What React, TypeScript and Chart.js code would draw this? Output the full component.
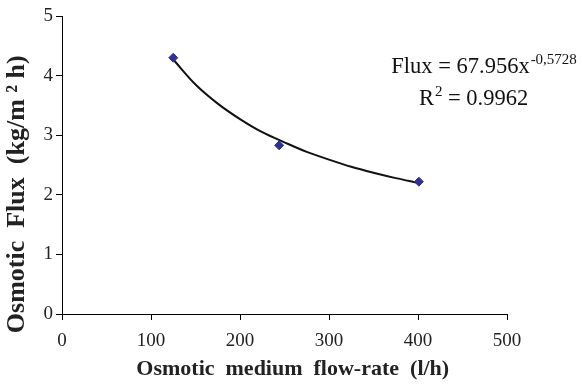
import React, { useEffect, useRef } from "react";
import { Chart, registerables } from "chart.js";

Chart.register(...registerables);

// Measured points (Osmotic medium flow-rate l/h, Osmotic flux kg/m2 h)
const flowRates = [125, 244, 401];
const fluxValues = [4.3, 2.83, 2.22];

// Trend line (power fit)
const trendX = [125, 150, 175, 200, 225, 250, 275, 300, 325, 350, 375, 400];
const trendY = [4.27, 3.85, 3.53, 3.27, 3.05, 2.88, 2.72, 2.59, 2.47, 2.37, 2.28, 2.2];

const xTicks = [0, 100, 200, 300, 400, 500];
const yTicks = [0, 1, 2, 3, 4, 5];

const xTitle = "   Osmotic  medium  flow-rate  (l/h)";
const yTitle = "Osmotic  Flux  (kg/m \u00B2 h)         ";
const eqMain = "Flux = 67.956x";
const eqExp = "-0,5728";
const r2Label = "R";
const r2Sup = "2";
const r2Value = " = 0.9962";

const annotationPlugin = {
  id: "eqAnnotation",
  afterDraw(chart: any) {
    const ctx = chart.ctx;
    const xs = chart.scales.x;
    const ys = chart.scales.y;
    ctx.save();
    ctx.fillStyle = "#111";
    ctx.textBaseline = "alphabetic";
    ctx.textAlign = "left";
    const x1 = xs.getPixelForValue(370);
    const y1 = ys.getPixelForValue(4.04);
    ctx.font = "22.5px 'Liberation Serif'";
    ctx.fillText(eqMain, x1, y1);
    const w1 = ctx.measureText(eqMain).width;
    ctx.font = "15px 'Liberation Serif'";
    ctx.fillText(eqExp, x1 + w1 + 1, y1 - 9);
    const x2 = xs.getPixelForValue(401);
    const y2 = ys.getPixelForValue(3.5);
    ctx.font = "22.5px 'Liberation Serif'";
    ctx.fillText(r2Label, x2, y2);
    const w2 = ctx.measureText(r2Label).width;
    ctx.font = "15px 'Liberation Serif'";
    ctx.fillText(r2Sup, x2 + w2 + 1, y2 - 9);
    const w3 = ctx.measureText(r2Sup).width;
    ctx.font = "22.5px 'Liberation Serif'";
    ctx.fillText(r2Value, x2 + w2 + w3 + 1, y2);
    ctx.restore();
  },
};

export default function App() {
  const ref = useRef<HTMLCanvasElement>(null);
  useEffect(() => {
    document.body.style.margin = "0";
    const canvas = ref.current!;
    const chart = new Chart(canvas, {
      type: "scatter",
      data: {
        datasets: [
          {
            type: "line",
            label: "Trend",
            data: trendX.map((x, i) => ({ x, y: trendY[i] })),
            borderColor: "#111",
            borderWidth: 2,
            pointRadius: 0,
            cubicInterpolationMode: "monotone",
            fill: false,
            order: 2,
          } as any,
          {
            label: "Flux",
            data: flowRates.map((x, i) => ({ x, y: fluxValues[i] })),
            backgroundColor: "#2E3192",
            borderColor: "#2E3192",
            pointStyle: "rectRot",
            pointRadius: 4.5,
            order: 1,
          },
        ],
      },
      options: {
        responsive: false,
        animation: false,
        layout: { padding: { top: 16, right: 75, left: 0, bottom: 0 } },
        plugins: {
          legend: { display: false },
          tooltip: { enabled: false },
        },
        scales: {
          x: {
            type: "linear",
            min: 0,
            max: 500,
            afterBuildTicks: (s: any) => {
              s.ticks = xTicks.map((v) => ({ value: v }));
            },
            afterFit: (s: any) => {
              s.height = 72;
            },
            grid: {
              drawOnChartArea: false,
              drawTicks: true,
              tickLength: 6,
              color: "#000",
            },
            border: { color: "#000", width: 1 },
            ticks: {
              color: "#222",
              font: { family: "'Liberation Serif'", size: 19 },
              padding: 10,
              maxRotation: 0,
            },
            title: {
              display: true,
              text: xTitle,
              color: "#222",
              font: { family: "'Liberation Serif'", size: 22, weight: "bold" },
              padding: { top: 0, bottom: 3 },
            },
          },
          y: {
            type: "linear",
            min: 0,
            max: 5,
            afterBuildTicks: (s: any) => {
              s.ticks = yTicks.map((v) => ({ value: v }));
            },
            afterFit: (s: any) => {
              s.width = 62;
            },
            grid: {
              drawOnChartArea: false,
              drawTicks: true,
              tickLength: 6,
              color: "#000",
            },
            border: { color: "#000", width: 1 },
            ticks: {
              color: "#222",
              font: { family: "'Liberation Serif'", size: 19 },
              padding: 3,
            },
            title: {
              display: true,
              text: yTitle,
              color: "#222",
              font: { family: "'Liberation Serif'", size: 26, weight: "bold" },
              padding: { top: 2, bottom: 4 },
            },
          },
        },
      },
      plugins: [annotationPlugin],
    });
    return () => chart.destroy();
  }, []);
  return (
    <div style={{ position: "absolute", left: 0, top: 0, width: 582, height: 386, background: "#fff" }}>
      <canvas ref={ref} width={582} height={386} />
    </div>
  );
}
